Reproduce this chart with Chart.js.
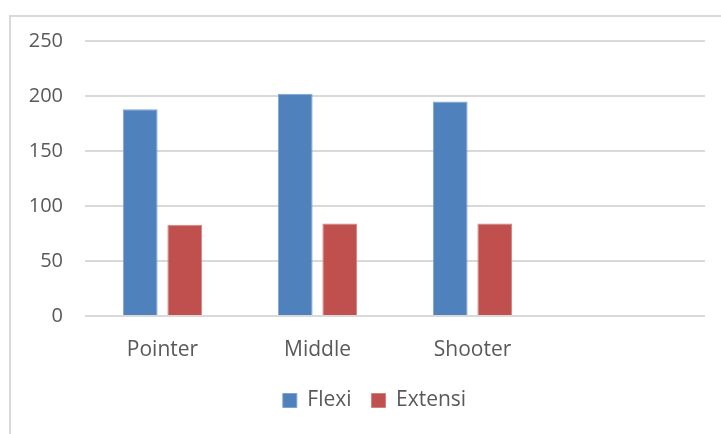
<!DOCTYPE html>
<html>
<head>
<meta charset="utf-8">
<script src="https://cdn.jsdelivr.net/npm/chart.js@4"></script>
<style>
  body { margin: 0; background: #fff; }
  #frame { position: absolute; left: 9px; top: 15px; width: 730px; height: 440px; border: 2px solid #d9d9d9; box-sizing: border-box; }
  #wrap { position: absolute; left: 0; top: 0; width: 721px; height: 434px; }
</style>
</head>
<body>
<div id="frame"></div>
<div id="wrap"><canvas id="barchart"></canvas></div>
<script>
const categories = ['Pointer', 'Middle', 'Shooter', ''];
const flexi = [188, 202, 195, null];
const extensi = [83, 84, 84, null];
const yTicks = [0, 50, 100, 150, 200, 250];

const ctx = document.getElementById('barchart');

// nudge the legend right so it sits under the plot like the original
const legendShift = {
  id: 'legendShift',
  afterLayout(chart) {
    chart.legend.left += 22;
    chart.legend.right += 22;
  }
};

new Chart(ctx, {
  type: 'bar',
  data: {
    labels: categories,
    datasets: [
      {
        label: 'Flexi',
        data: flexi,
        backgroundColor: '#4f81bd',
        borderColor: '#7fa3d1',
        borderWidth: 1,
        categoryPercentage: 0.575,
        barPercentage: 0.78
      },
      {
        label: 'Extensi',
        data: extensi,
        backgroundColor: '#c0504d',
        borderColor: '#d2807e',
        borderWidth: 1,
        categoryPercentage: 0.575,
        barPercentage: 0.78
      }
    ]
  },
  plugins: [legendShift],
  options: {
    responsive: true,
    maintainAspectRatio: false,
    animation: false,
    layout: { padding: { left: 0, right: 16, top: 41, bottom: 13 } },
    plugins: {
      legend: {
        position: 'bottom',
        labels: {
          boxWidth: 14,
          boxHeight: 14,
          padding: 20,
          color: '#595959',
          font: { family: 'Open Sans', size: 21 }
        }
      },
      tooltip: { enabled: false }
    },
    scales: {
      x: {
        grid: { display: false },
        border: { display: false },
        ticks: {
          color: '#595959',
          padding: 13,
          font: { family: 'Open Sans', size: 21 }
        },
        afterFit: s => { s.height = 54; }
      },
      y: {
        min: 0,
        max: 250,
        afterBuildTicks: s => { s.ticks = yTicks.map(v => ({ value: v })); },
        grid: { color: '#d9d9d9', lineWidth: 2, drawTicks: false },
        border: { display: false },
        ticks: {
          color: '#595959',
          padding: 22,
          font: { family: 'Open Sans', size: 20 }
        },
        afterFit: s => { s.width = 85; }
      }
    }
  }
});
</script>
</body>
</html>
